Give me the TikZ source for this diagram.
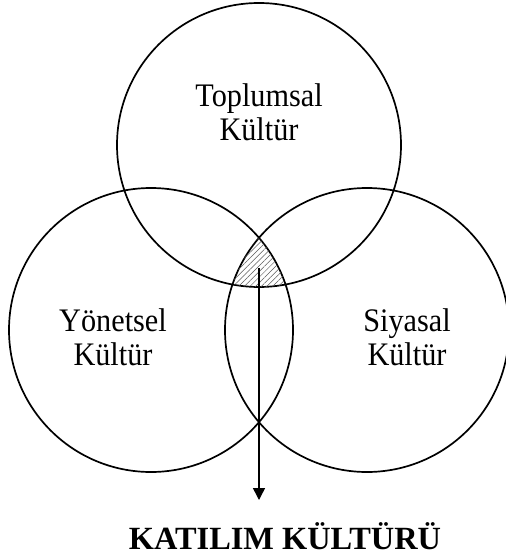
\documentclass[tikz,border=0pt]{standalone}
\usepackage{fontspec}
\setmainfont{Liberation Serif}
\newfontfamily\narrowserif[FakeStretch=0.92]{Liberation Serif}
\usetikzlibrary{arrows.meta, patterns.meta}

\begin{document}
\begin{tikzpicture}[
    x=1bp, y=-1bp,
    >={Triangle[width=12bp, length=12bp]},
    ring/.style={draw, circle, line width=1.7bp, minimum size=284bp, inner sep=0pt},
    culture/.style={align=center, inner sep=0pt, font=\narrowserif\fontsize{33}{34.5}\selectfont},
    result/.style={inner sep=0pt, font=\fontsize{32.5}{36}\selectfont\bfseries},
    arr/.style={->, line width=1.5bp},
    hatch/.style={pattern={Lines[angle=45, distance=4bp, line width=0.5bp]}, pattern color=black!65},
]
\useasboundingbox (0,0) rectangle (506,559);

% circles
\node[ring] (top) at (259,145) {};
\node[ring] (left) at (151,330) {};
\node[ring] (right) at (367,330) {};

% shared part of all three
\begin{scope}
    \clip (top.center) circle[radius=142];
    \clip (left.center) circle[radius=142];
    \fill[hatch] (right.center) circle[radius=142];
\end{scope}

% circle texts
\node[culture] (social) at (259,112) {Toplumsal\\Kültür};
\node[culture] (admin) at (113,337) {Yönetsel\\Kültür};
\node[culture] (political) at (407,337) {Siyasal\\Kültür};

% outcome
\coordinate (hub) at (259,268);
\coordinate (tip) at (259,500);
\node[result, anchor=base] (participation) at (285,549) {KATILIM KÜLTÜRÜ};

\draw[arr] (hub) -- (tip);

\end{tikzpicture}
\end{document}
